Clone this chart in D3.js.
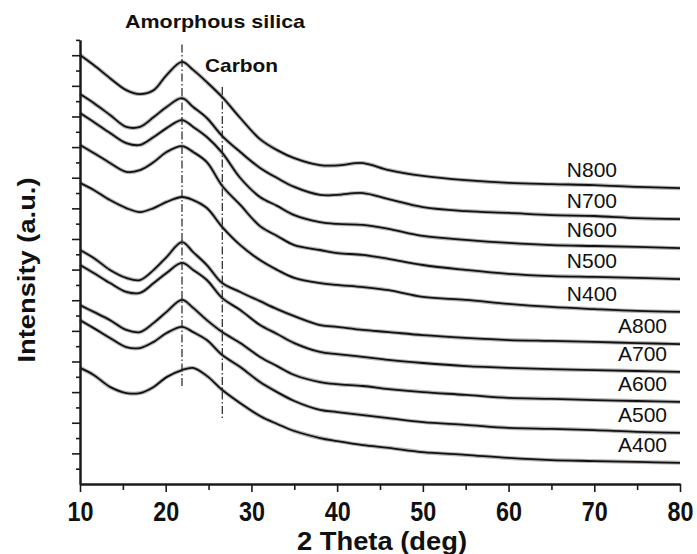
<!DOCTYPE html>
<html><head><meta charset="utf-8">
<script src="https://cdn.jsdelivr.net/npm/d3@7"></script>
<style>
body{margin:0;background:#fff}
svg{display:block}
text{font-family:"Liberation Sans",Arial,Helvetica,sans-serif}
</style>
</head><body>
<svg id="chart" width="697" height="554"></svg>
<script>
// ---- data ----
const twoTheta = [10, 11.6, 13.5, 15.4, 17, 18.6, 20.1, 21.9, 23.2, 24.8, 26.6, 28.7, 31, 33, 35, 38, 40, 43, 46, 50, 55, 60, 65, 70, 75, 80];
const seriesNames = ["N800", "N700", "N600", "N500", "N400", "A800", "A700", "A600", "A500", "A400"];
const N800 = [14.01, 13.68, 13.25, 12.86, 12.73, 12.86, 13.35, 13.78, 13.52, 13.12, 12.63, 11.95, 11.26, 10.90, 10.64, 10.41, 10.40, 10.48, 10.25, 10.06, 9.92, 9.83, 9.79, 9.76, 9.70, 9.66];
const N700 = [12.73, 12.44, 12.05, 11.66, 11.66, 11.98, 12.31, 12.60, 12.31, 11.95, 11.36, 10.84, 10.32, 9.99, 9.70, 9.44, 9.44, 9.50, 9.30, 9.04, 8.91, 8.85, 8.78, 8.75, 8.68, 8.65];
const N600 = [12.11, 11.82, 11.46, 11.13, 11.07, 11.33, 11.62, 11.88, 11.66, 11.33, 10.81, 9.99, 9.37, 9.08, 8.78, 8.55, 8.49, 8.46, 8.33, 8.10, 7.97, 7.87, 7.80, 7.77, 7.74, 7.70];
const N500 = [11.07, 10.81, 10.48, 10.19, 10.25, 10.51, 10.84, 11.03, 10.84, 10.51, 9.73, 9.11, 8.42, 8.10, 7.80, 7.64, 7.54, 7.48, 7.35, 7.15, 6.99, 6.86, 6.79, 6.76, 6.73, 6.69];
const N400 = [9.83, 9.60, 9.27, 9.01, 8.88, 9.01, 9.21, 9.37, 9.27, 9.01, 8.39, 7.80, 7.31, 6.99, 6.73, 6.56, 6.50, 6.43, 6.33, 6.11, 6.01, 5.88, 5.78, 5.71, 5.65, 5.62];
const A800 = [7.64, 7.38, 6.99, 6.73, 6.66, 6.99, 7.41, 7.90, 7.57, 7.15, 6.56, 6.27, 5.97, 5.71, 5.48, 5.19, 5.13, 5.03, 4.96, 4.86, 4.77, 4.70, 4.67, 4.64, 4.60, 4.57];
const A700 = [7.15, 6.89, 6.56, 6.27, 6.24, 6.56, 6.89, 7.22, 6.99, 6.66, 6.07, 5.68, 5.19, 4.90, 4.60, 4.31, 4.24, 4.15, 4.05, 3.95, 3.85, 3.79, 3.75, 3.72, 3.69, 3.66];
const A600 = [5.84, 5.62, 5.35, 5.03, 4.96, 5.26, 5.62, 6.01, 5.75, 5.35, 4.96, 4.60, 4.15, 3.85, 3.56, 3.33, 3.26, 3.20, 3.10, 3.00, 2.91, 2.81, 2.78, 2.74, 2.71, 2.68];
const A500 = [5.35, 5.09, 4.77, 4.47, 4.44, 4.64, 4.93, 5.13, 4.96, 4.70, 4.21, 3.82, 3.33, 3.00, 2.71, 2.42, 2.35, 2.25, 2.15, 2.02, 1.93, 1.83, 1.80, 1.76, 1.70, 1.67];
const A400 = [3.79, 3.56, 3.17, 2.97, 2.97, 3.17, 3.49, 3.72, 3.79, 3.53, 3.07, 2.64, 2.22, 1.96, 1.73, 1.50, 1.40, 1.27, 1.18, 1.04, 0.95, 0.85, 0.78, 0.75, 0.72, 0.69];
const seriesValues = [N800, N700, N600, N500, N400, A800, A700, A600, A500, A400];

const xTickValues = [10, 20, 30, 40, 50, 60, 70, 80];
const xMinorTicks = [15, 25, 35, 45, 55, 65, 75];
const yMajorTicks = [1, 2, 3, 4, 5, 6, 7, 8, 9, 10, 11, 12, 13, 14];
const yMinorTicks = [0.5, 1.5, 2.5, 3.5, 4.5, 5.5, 6.5, 7.5, 8.5, 9.5, 10.5, 11.5, 12.5, 13.5, 14.5];

const peakNames = ["Amorphous silica", "Carbon"];
const peakPositions = [21.9, 26.6];
const peakLineTop = [14.35, 12.96];
const peakLineBottom = [3.13, 2.15];

const xTitle = "2 Theta (deg)";
const yTitle = "Intensity (a.u.)";

// ---- layout ----
const svg = d3.select("#chart");
const x = d3.scaleLinear().domain([10, 80]).range([80, 680]);
const y = d3.scaleLinear().domain([0, 14.5]).range([484, 39.9]);
const ink = "#1a1a1a";

// curves
const line = d3.line()
  .x((d, i) => x(twoTheta[i]))
  .y(d => y(d))
  .curve(d3.curveCatmullRom.alpha(0.5));

const curves = svg.append("g");
curves.selectAll("path.halo")
  .data(seriesValues)
  .join("path")
  .attr("class", "halo")
  .attr("d", d => line(d))
  .attr("fill", "none")
  .attr("stroke", "#777")
  .attr("stroke-opacity", 0.55)
  .attr("stroke-width", 4);
curves.selectAll("path.core")
  .data(seriesValues)
  .join("path")
  .attr("class", "core")
  .attr("d", d => line(d))
  .attr("fill", "none")
  .attr("stroke", "#111")
  .attr("stroke-width", 1.8)
  .attr("stroke-linejoin", "round");

// dash-dot reference lines
svg.append("g").selectAll("line")
  .data(peakPositions)
  .join("line")
  .attr("x1", d => x(d)).attr("x2", d => x(d))
  .attr("y1", (d, i) => y(peakLineTop[i]))
  .attr("y2", (d, i) => y(peakLineBottom[i]))
  .attr("stroke", "#222")
  .attr("stroke-width", 1.2)
  .attr("stroke-dasharray", "8,2.5,1.5,2.5");

// axes
function styleAxis(g) {
  g.select(".domain").attr("stroke", ink).attr("stroke-width", 2);
  g.selectAll(".tick line").attr("stroke", ink).attr("stroke-width", 1.6);
}
const xAxisG = svg.append("g").attr("transform", "translate(0,484)")
  .call(d3.axisBottom(x).tickValues(xMinorTicks).tickSize(6).tickFormat("").tickSizeOuter(0));
styleAxis(xAxisG);
const xAxisMajor = svg.append("g").attr("transform", "translate(0,484)")
  .call(d3.axisBottom(x).tickValues(xTickValues).tickSize(8).tickPadding(10).tickSizeOuter(0));
styleAxis(xAxisMajor);
xAxisMajor.selectAll(".tick text")
  .attr("fill", "#111")
  .attr("font-size", 27)
  .attr("font-weight", "bold")
  .attr("textLength", 26)
  .attr("lengthAdjust", "spacingAndGlyphs")
  .attr("dy", "0.72em");

const yAxisMinor = svg.append("g").attr("transform", "translate(80,0)")
  .call(d3.axisLeft(y).tickValues(yMinorTicks).tickSize(4).tickFormat("").tickSizeOuter(0));
styleAxis(yAxisMinor);
const yAxisMajor = svg.append("g").attr("transform", "translate(80,0)")
  .call(d3.axisLeft(y).tickValues(yMajorTicks).tickSize(8).tickFormat("").tickSizeOuter(0));
styleAxis(yAxisMajor);

// series labels
svg.append("g").selectAll("text")
  .data(seriesNames)
  .join("text")
  .attr("x", d => d[0] === "N" ? x(80) - 63 : x(80) - 13)
  .attr("y", (d, i) => y(seriesValues[i][seriesValues[i].length - 1]) - 11)
  .attr("text-anchor", "end")
  .attr("font-size", 21)
  .attr("fill", "#111")
  .text(d => d);

// peak annotations
svg.append("text")
  .attr("x", 215).attr("y", 28)
  .attr("text-anchor", "middle")
  .attr("font-size", 19).attr("font-weight", "bold").attr("fill", "#111")
  .attr("textLength", 180).attr("lengthAdjust", "spacingAndGlyphs")
  .text(peakNames[0]);
svg.append("text")
  .attr("x", 241.5).attr("y", 72)
  .attr("text-anchor", "middle")
  .attr("font-size", 19).attr("font-weight", "bold").attr("fill", "#111")
  .attr("textLength", 73).attr("lengthAdjust", "spacingAndGlyphs")
  .text(peakNames[1]);

// axis titles
svg.append("text")
  .attr("x", 382).attr("y", 550)
  .attr("text-anchor", "middle")
  .attr("font-size", 25).attr("font-weight", "bold").attr("fill", "#111")
  .attr("textLength", 170).attr("lengthAdjust", "spacingAndGlyphs")
  .text(xTitle);
svg.append("text")
  .attr("transform", "translate(35,270) rotate(-90)")
  .attr("text-anchor", "middle")
  .attr("font-size", 24).attr("font-weight", "bold").attr("fill", "#111")
  .attr("textLength", 185).attr("lengthAdjust", "spacingAndGlyphs")
  .text(yTitle);
</script>
</body></html>
